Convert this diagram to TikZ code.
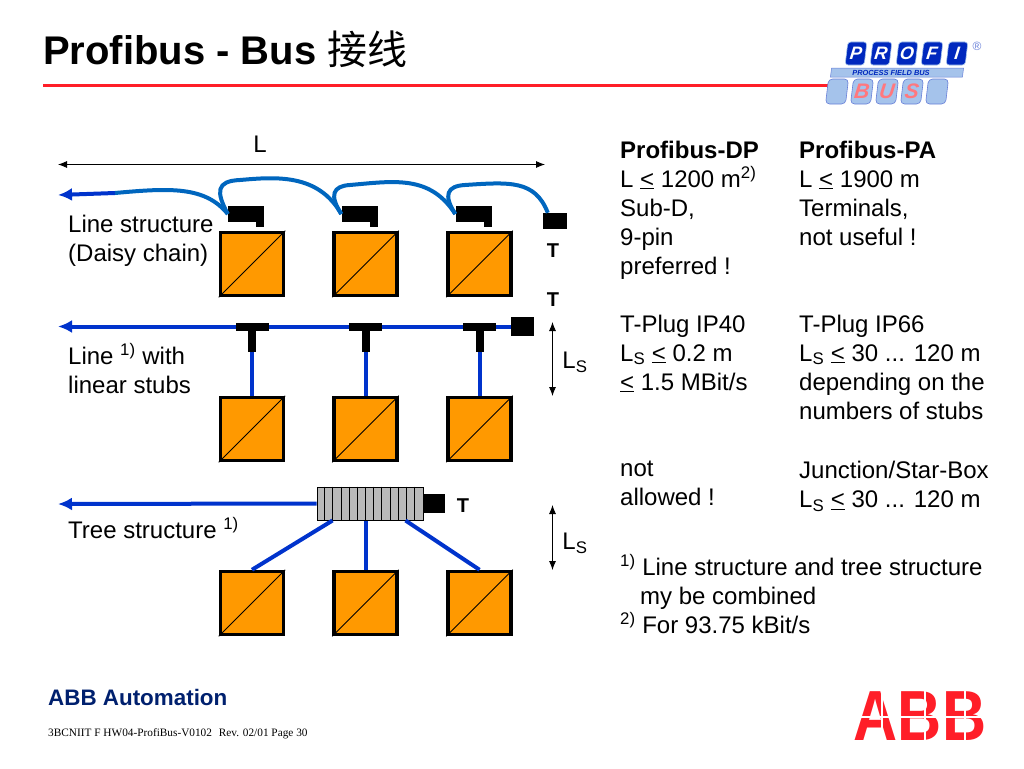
\documentclass[tikz,border=0pt]{standalone}
\usepackage{fontspec}
\setmainfont{Liberation Sans}
\newfontfamily\cjkfont{Noto Sans CJK SC}
\newfontfamily\timesfont{Liberation Serif}
\usetikzlibrary{positioning,arrows.meta}
\definecolor{devorange}{RGB}{255,153,0}
\definecolor{busblue}{RGB}{0,51,204}
\definecolor{chainblue}{RGB}{0,102,190}
\definecolor{abbred}{RGB}{255,30,40}
\definecolor{abbnavy}{RGB}{0,32,110}
\definecolor{logoblue}{RGB}{0,40,190}
\definecolor{logopale}{RGB}{165,195,235}
\newcommand{\lessq}{\underline{<}}
\newcommand{\bodyfont}{\fontsize{24}{29}\selectfont}
\begin{document}
\begin{tikzpicture}[x=1pt,y=-1pt]
	\tikzset{
	device/.style={rectangle,draw=black,line width=3.5pt,fill=devorange,minimum size=63pt,inner sep=0pt},
	blackpart/.style={rectangle,fill=black,inner sep=0pt},
	bus/.style={busblue,line width=4pt},
	chain/.style={chainblue,line width=4pt},
	wirehead/.style={-{Latex[length=14pt,width=13pt]}},
	dimline/.style={{Latex[length=9pt,width=7pt]}-{Latex[length=9pt,width=7pt]},black,line width=0.8pt},
	body/.style={anchor=north west,align=left,inner sep=0pt,font=\bodyfont},
	tmark/.style={font=\fontsize{20}{20}\selectfont\bfseries,inner sep=0pt},
	logotop/.style={rectangle,rounded corners=3pt,fill=logoblue,draw=logopale,line width=0.6pt,xslant=0.12,transform shape,minimum width=19pt,minimum height=23pt,inner sep=0pt,text=white,font=\fontsize{18}{18}\selectfont\bfseries\itshape},
	logolow/.style={rectangle,rounded corners=4pt,fill=logopale,draw=logoblue!60,line width=0.6pt,xslant=0.12,transform shape,minimum width=20pt,minimum height=25pt,inner sep=0pt,text=abbred!60,font=\fontsize{21}{21}\selectfont\bfseries\itshape}}
	\useasboundingbox (0,0) rectangle (1024,768);

%title
	\node[anchor=base west,inner sep=0pt,font=\fontsize{40}{40}\selectfont\bfseries] (title) at (43,64) {Profibus - Bus {\cjkfont\mdseries 接线}};
	\coordinate (rulestart) at (43,85.5);
	\coordinate (ruleend) at (830,85.5);
	\draw[abbred,line width=3pt] (rulestart)--(ruleend);

%logo
	\foreach \x/\l/\n in {856/P/p,881/R/r,907/O/o,932/F/f,957/I/i}
		\node[logotop] (top\n) at (\x,53.5) {\l};
	\foreach \x/\l/\n in {837/{}/a,862/B/b,887/U/u,912/S/s,937/{}/e}
		\node[logolow] (low\n) at (\x,91.5) {\l};
	\node[rectangle,fill=logopale,draw=logoblue!60,line width=0.5pt,minimum width=132pt,minimum height=9pt,inner sep=0pt,xslant=0.12,transform shape] (logobar) at (897,72.5) {};
	\node[text=logoblue,font=\fontsize{7.4}{8}\selectfont\bfseries\itshape,inner sep=0pt] (logotext) at (891,72.5) {PROCESS FIELD BUS};
	\node[text=logoblue!60,font=\fontsize{12}{12}\selectfont,inner sep=0pt] (logoreg) at (977,46) {®};

%dimension L
	\coordinate (lleft) at (58,164.5);
	\coordinate (lright) at (545,164.5);
	\draw[dimline] (lleft)--(lright);
	\node[font=\bodyfont,inner sep=0pt] (lname) at (260,144) {L};

%row 1, daisy chain
	\foreach \x/\n in {252/a,365.5/b,479.5/c}
	{
		\node[device] (top\n) at (\x,264) {};
		\draw[black,line width=1pt] (top\n.south west)--(top\n.north east);
		\node[blackpart,minimum width=36pt,minimum height=16pt] (conn\n) at (\x-6,214) {};
		\node[blackpart,minimum width=8pt,minimum height=8pt] (lip\n) at (\x+8,223) {};
	}
	\node[blackpart,minimum width=24pt,minimum height=16pt] (termtop) at (555,221) {};
	\coordinate (chainend) at (58,195);
	\coordinate (chainmid) at (115,193);
	\draw[wirehead,bus] (chainmid)--(chainend);
	\draw[chain] (chainmid) .. controls (170,188) and (205,186) .. (conna.west);
	\draw[chain] (conna.west) .. controls (216,192) and (216,181) .. (240,180) .. controls (275,177) and (318,173) .. (connb.west);
	\draw[chain] (connb.west) .. controls (329,195) and (333,186) .. (350,185) .. controls (395,181) and (430,175) .. (connc.west);
	\draw[chain] (connc.west) .. controls (443,195) and (447,186) .. (465,185) .. controls (510,182) and (535,180) .. ([xshift=5pt]termtop.north west);
	\node[body] (daisy) at (68,214.5) {Line structure\\(Daisy chain)};
	\node[tmark] (tone) at (553,251) {T};
	\node[tmark] (ttwo) at (553,300) {T};

%row 2, linear stubs
	\node[blackpart,minimum width=23pt,minimum height=19pt] (termmid) at (522.5,326.5) {};
	\coordinate (busend) at (58,326.5);
	\draw[wirehead,bus] (termmid.west)--(busend);
	\foreach \x/\n in {252/a,365.5/b,479.5/c}
	{
		\node[device] (mid\n) at (\x,429) {};
		\draw[black,line width=1pt] (mid\n.south west)--(mid\n.north east);
		\node[blackpart,minimum width=33pt,minimum height=8pt] (plug\n) at (\x,327) {};
		\node[blackpart,minimum width=8pt,minimum height=22pt] (stem\n) at (\x,341) {};
		\draw[bus] (stem\n.south)--(mid\n.north);
	}
	\node[body] (stubtext) at (68,343.5) {Line \textsuperscript{1)} with\\linear stubs};
	\coordinate (lsonetop) at (552.5,322);
	\coordinate (lsonelow) at (552.5,396);
	\draw[dimline] (lsonetop)--(lsonelow);
	\node[font=\bodyfont,inner sep=0pt] (lsone) at (575,362) {L\textsubscript{S}};

%row 3, tree
	\foreach \x/\n in {252/a,365.5/b,479.5/c}
	{
		\node[device] (low\n) at (\x,603) {};
		\draw[black,line width=1pt] (low\n.south west)--(low\n.north east);
	}
	\node[rectangle,draw=black,line width=1pt,fill=gray!55,minimum width=106pt,minimum height=33pt,inner sep=0pt] (junction) at (370,503.5) {};
	\foreach \i in {1,...,12}
		\draw[black,line width=0.7pt] ([xshift=\i*8.15pt]junction.north west)--([xshift=\i*8.15pt]junction.south west);
	\node[blackpart,minimum width=22pt,minimum height=19pt] (termlow) at (434,503.5) {};
	\coordinate (treeend) at (58,504);
	\draw[wirehead,bus] (junction.west)--(treeend);
	\draw[bus] ([xshift=16pt]junction.south west)--(lowa.north);
	\draw[bus] (junction.south -| lowb.north)--(lowb.north);
	\draw[bus] ([xshift=-18pt]junction.south east)--(lowc.north);
	\node[tmark] (tthree) at (463,506) {T};
	\node[body] (treetext) at (68,517.5) {Tree structure \textsuperscript{1)}};
	\coordinate (lstwotop) at (552.5,505);
	\coordinate (lstwolow) at (552.5,570);
	\draw[dimline] (lstwotop)--(lstwolow);
	\node[font=\bodyfont,inner sep=0pt] (lstwo) at (575,543) {L\textsubscript{S}};

%table
	\node[body] (dpone) at (620,140.5) {\textbf{Profibus-DP}\\L \lessq{} 1200 m\textsuperscript{2)}\\Sub-D,\\9-pin\\preferred !};
	\node[body] (paone) at (799,140.5) {\textbf{Profibus-PA}\\L \lessq{} 1900 m\\Terminals,\\not useful !};
	\node[body] (dptwo) at (620,314.5) {T-Plug IP40\\L\textsubscript{S} \lessq{} 0.2 m\\\lessq{} 1.5 MBit/s};
	\node[body] (patwo) at (799,314.5) {T-Plug IP66\\L\textsubscript{S} \lessq{} 30 ... 120 m\\depending on the\\numbers of stubs};
	\node[body] (dpthree) at (620,461) {not\\allowed !};
	\node[body] (pathree) at (799,461) {Junction/Star-Box\\L\textsubscript{S} \lessq{} 30 ... 120 m};
	\node[body] (notes) at (620,554.5) {\textsuperscript{1)} Line structure and tree structure\\\hspace*{20pt}my be combined\\\textsuperscript{2)} For 93.75 kBit/s};

%footer
	\node[anchor=base west,inner sep=0pt,text=abbnavy,font=\fontsize{22.4}{22.4}\selectfont\bfseries] (company) at (48,705) {ABB Automation};
	\node[anchor=base west,inner sep=0pt,font=\fontsize{11.3}{11.3}\selectfont\timesfont] (pageref) at (48,736) {3BCNIIT F HW04-ProfiBus-V0102\hspace{4pt} Rev. 02/01 Page 30};
	\node[inner sep=0pt,text=abbred,xscale=0.86,font=\fontsize{71}{71}\selectfont\bfseries] (abblogo) at (920,716.5) {ABB};
	\coordinate (cutleft) at (853,717);
	\coordinate (cutright) at (987,717);
	\draw[white,line width=1.2pt] (cutleft)--(cutright);
	\foreach \x/\n in {882/a,925/b,965/c}
	{
		\coordinate (cut\n) at (\x,688);
		\draw[white,line width=1.2pt] (cut\n)--++(0,58);
	}
\end{tikzpicture}
\end{document}
